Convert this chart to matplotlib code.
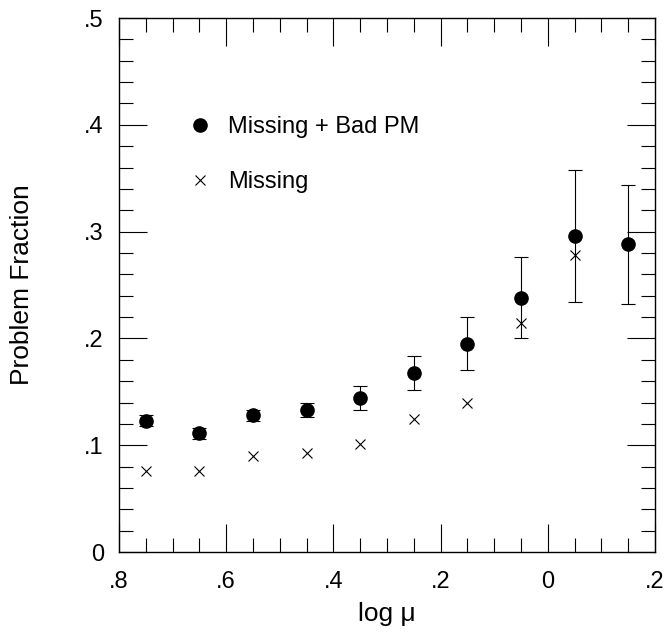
import matplotlib
matplotlib.use("Agg")
import matplotlib.pyplot as plt
from matplotlib.ticker import MultipleLocator, FixedLocator, FixedFormatter
from matplotlib.lines import Line2D

plt.rcParams['font.family'] = ['Liberation Sans', 'DejaVu Sans']

# log mu bins
log_mu = [0.75, 0.65, 0.55, 0.45, 0.35, 0.25, 0.15, 0.05, -0.05, -0.15]
# Missing + Bad PM
frac_bad = [0.123, 0.111, 0.128, 0.133, 0.144, 0.168, 0.195, 0.238, 0.296, 0.288]
err_bad = [0.005, 0.005, 0.005, 0.007, 0.011, 0.016, 0.025, 0.038, 0.062, 0.056]
# Missing only
log_mu_miss = [0.75, 0.65, 0.55, 0.45, 0.35, 0.25, 0.15, 0.05, -0.05]
frac_miss = [0.076, 0.076, 0.090, 0.093, 0.101, 0.125, 0.140, 0.214, 0.278]

xticks = [0.8, 0.6, 0.4, 0.2, 0.0, -0.2]
xticklabels = ['.8', '.6', '.4', '.2', '0', '.2']
yticks = [0, 0.1, 0.2, 0.3, 0.4, 0.5]
yticklabels = ['0', '.1', '.2', '.3', '.4', '.5']

fs = 17

fig = plt.figure(figsize=(6.65, 6.37), dpi=100)
ax = fig.add_axes([0.179, 0.1334, 0.806, 0.8383])

ax.errorbar(log_mu, frac_bad, yerr=err_bad, fmt='o', color='black',
            markersize=9.5, elinewidth=0.8, capsize=4.7, capthick=0.8)
ax.plot(log_mu_miss, frac_miss, 'x', color='black', markersize=7, markeredgewidth=0.8)

ax.set_xlim(0.8, -0.2)
ax.set_ylim(0, 0.5)

ax.xaxis.set_major_locator(FixedLocator(xticks))
ax.xaxis.set_major_formatter(FixedFormatter(xticklabels))
ax.xaxis.set_minor_locator(MultipleLocator(0.05))
ax.yaxis.set_major_locator(FixedLocator(yticks))
ax.yaxis.set_major_formatter(FixedFormatter(yticklabels))
ax.yaxis.set_minor_locator(MultipleLocator(0.02))

ax.tick_params(which='both', direction='in', top=True, right=True, labelsize=fs, width=0.8)
ax.tick_params(which='major', length=20)
ax.tick_params(which='minor', length=10)
ax.tick_params(axis='x', which='major', pad=14)
ax.tick_params(axis='y', which='major', pad=11)
for s in ax.spines.values():
    s.set_linewidth(1.0)

ax.set_xlabel('log \u03bc', fontsize=19, labelpad=6)
ax.set_ylabel('Problem Fraction', fontsize=19, labelpad=36)

handles = [Line2D([], [], marker='o', ls='none', color='black', markersize=9.5),
           Line2D([], [], marker='x', ls='none', color='black', markersize=7, markeredgewidth=0.8)]
ax.legend(handles, ['Missing + Bad PM', 'Missing'], loc='upper left',
          bbox_to_anchor=(0.107, 0.838), frameon=False, fontsize=fs,
          handlelength=1.0, handletextpad=0.69, labelspacing=1.40, borderpad=0)

fig.savefig('out.png', dpi=100)
